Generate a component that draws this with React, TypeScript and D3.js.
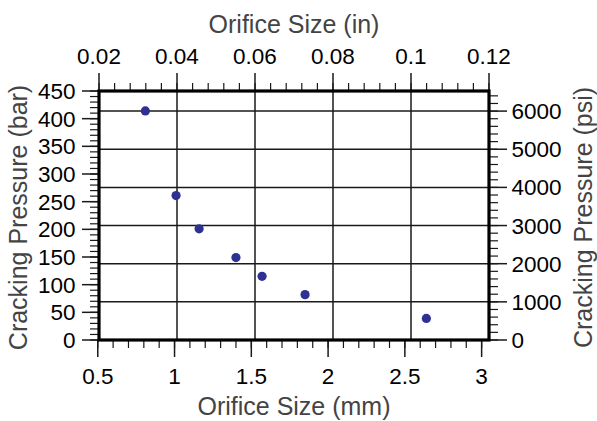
import React from "react";
import * as d3 from "d3";

// Orifice size (mm) vs cracking pressure (bar)
const orificeMm = [0.81, 1.01, 1.16, 1.4, 1.57, 1.85, 2.64];
const pressureBar = [414, 261, 201, 149, 115, 82, 39];

const mmTicks = [0.5, 1, 1.5, 2, 2.5, 3];
const inTicks = [0.02, 0.04, 0.06, 0.08, 0.1, 0.12];
const barTicks = [0, 50, 100, 150, 200, 250, 300, 350, 400, 450];
const psiTicks = [0, 1000, 2000, 3000, 4000, 5000, 6000];

const W = 597;
const H = 421;
const M = { top: 91, right: 108, bottom: 81, left: 99 };
const PSI_PER_BAR = 14.5038;
const MM_PER_IN = 25.4;

const FONT = "Liberation Sans, Arial, Helvetica, sans-serif";
const DOT = "#2e3192";
const TITLE = "#444";
const TICK_FS = 22.5;
const TITLE_FS = 25;

const App: React.FC = () => {
  const iW = W - M.left - M.right;
  const iH = H - M.top - M.bottom;

  const xIn = d3.scaleLinear().domain([0.02, 0.12]).range([0, iW]);
  const xMm = d3.scaleLinear().domain([0.02 * MM_PER_IN, 0.12 * MM_PER_IN]).range([0, iW]);
  const yBar = d3.scaleLinear().domain([0, 450]).range([iH, 0]);
  const yPsi = d3.scaleLinear().domain([0, 450 * PSI_PER_BAR]).range([iH, 0]);

  const MAJ = 17;
  const MIN = 8;

  // minor ticks
  const mmMinor = d3.range(5, 31).map((v) => v / 10).filter((v) => xMm(v) >= -1.5 && xMm(v) <= iW);
  const inMinor = d3.range(5, 31).map((v) => v * 0.004).filter((v) => v >= 0.02 && v <= 0.12001);
  const barMinor = d3.range(0, 46).map((v) => v * 10);
  const psiMinor = d3.range(0, 33).map((v) => v * 200).filter((v) => yPsi(v) >= 0);

  const tickStroke = "#1a1a1a";

  return (
    <svg width={W} height={H} style={{ position: "absolute", left: 0, top: 0, background: "#fff" }} fontFamily={FONT}>
      <g transform={`translate(${M.left},${M.top})`}>
        {/* grid follows the inch / psi axes */}
        {inTicks.slice(1, -1).map((t) => (
          <line key={`gx${t}`} x1={xIn(t)} x2={xIn(t)} y1={0} y2={iH} stroke="#1a1a1a" strokeWidth={1.5} />
        ))}
        {psiTicks.slice(1).map((t) => (
          <line key={`gy${t}`} x1={0} x2={iW} y1={yPsi(t)} y2={yPsi(t)} stroke="#1a1a1a" strokeWidth={1.5} />
        ))}

        {/* bottom axis (mm) */}
        {mmMinor.map((t) => (
          <line key={`bm${t}`} x1={xMm(t)} x2={xMm(t)} y1={iH} y2={iH + MIN} stroke={tickStroke} strokeWidth={1.2} />
        ))}
        {mmTicks.map((t) => (
          <g key={`bt${t}`}>
            <line x1={xMm(t)} x2={xMm(t)} y1={iH} y2={iH + MAJ} stroke={tickStroke} strokeWidth={1.5} />
            <text x={xMm(t)} y={iH + 44} textAnchor="middle" fontSize={TICK_FS} fill="#000">{t}</text>
          </g>
        ))}

        {/* top axis (in) */}
        {inMinor.map((t) => (
          <line key={`tm${t}`} x1={xIn(t)} x2={xIn(t)} y1={0} y2={-MIN} stroke={tickStroke} strokeWidth={1.2} />
        ))}
        {inTicks.map((t) => (
          <g key={`tt${t}`}>
            <line x1={xIn(t)} x2={xIn(t)} y1={0} y2={-MAJ - 1} stroke={tickStroke} strokeWidth={1.5} />
            <text x={xIn(t)} y={-27.5} textAnchor="middle" fontSize={TICK_FS} fill="#000">{t}</text>
          </g>
        ))}

        {/* left axis (bar) */}
        {barMinor.map((t) => (
          <line key={`lm${t}`} x1={0} x2={-MIN - 1} y1={yBar(t)} y2={yBar(t)} stroke={tickStroke} strokeWidth={1.2} />
        ))}
        {barTicks.map((t) => (
          <g key={`lt${t}`}>
            <line x1={0} x2={-MAJ} y1={yBar(t)} y2={yBar(t)} stroke={tickStroke} strokeWidth={1.5} />
            <text x={-23.5} y={yBar(t)} dy="0.36em" textAnchor="end" fontSize={TICK_FS} fill="#000">{t}</text>
          </g>
        ))}

        {/* right axis (psi) */}
        {psiMinor.map((t) => (
          <line key={`rm${t}`} x1={iW} x2={iW + MIN + 1} y1={yPsi(t)} y2={yPsi(t)} stroke={tickStroke} strokeWidth={1.2} />
        ))}
        {psiTicks.map((t) => (
          <g key={`rt${t}`}>
            <line x1={iW} x2={iW + MAJ + 1} y1={yPsi(t)} y2={yPsi(t)} stroke={tickStroke} strokeWidth={1.5} />
            <text x={iW + 22.5} y={yPsi(t)} dy="0.36em" textAnchor="start" fontSize={TICK_FS} fill="#000">{t}</text>
          </g>
        ))}

        {/* frame */}
        <rect x={0} y={0} width={iW} height={iH} fill="none" stroke="#000" strokeWidth={3.2} />

        {/* points */}
        {orificeMm.map((mm, i) => (
          <circle key={i} cx={xMm(mm)} cy={yBar(pressureBar[i])} r={4.6} fill={DOT} />
        ))}
      </g>

      {/* axis titles */}
      <text x={M.left + iW / 2} y={415} textAnchor="middle" fontSize={TITLE_FS} fill={TITLE}>Orifice Size (mm)</text>
      <text x={M.left + iW / 2} y={33} textAnchor="middle" fontSize={TITLE_FS} fill={TITLE}>Orifice Size (in)</text>
      <text
        transform={`translate(18,${M.top + iH / 2 + 2}) rotate(-90)`}
        textAnchor="middle"
        dy="0.35em"
        fontSize={TITLE_FS}
        fill={TITLE}
      >
        Cracking Pressure (bar)
      </text>
      <text
        transform={`translate(583,${M.top + iH / 2 + 2}) rotate(-90)`}
        textAnchor="middle"
        dy="0.35em"
        fontSize={TITLE_FS}
        fill={TITLE}
      >
        Cracking Pressure (psi)
      </text>
    </svg>
  );
};

export default App;
